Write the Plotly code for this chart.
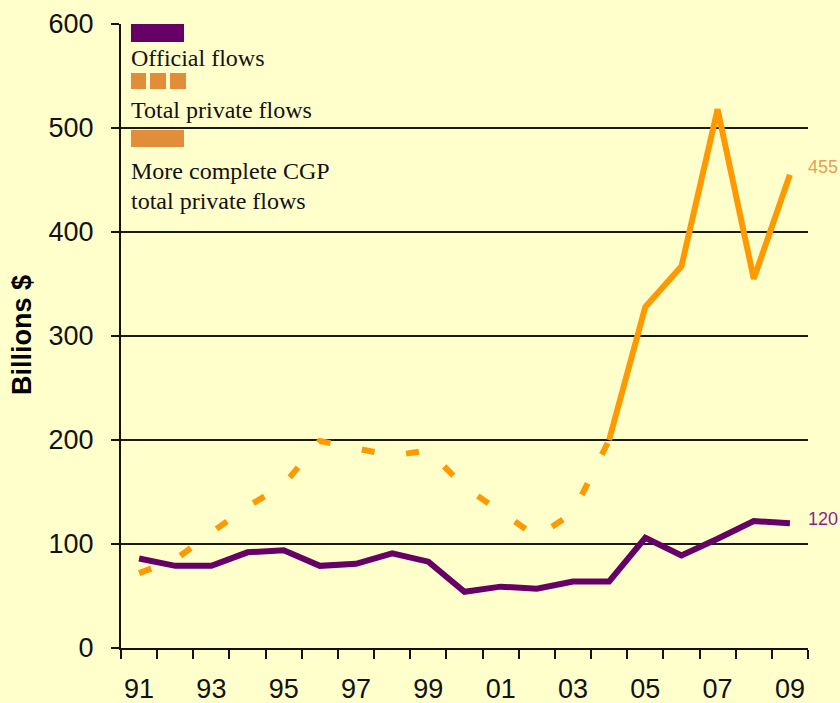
import plotly.graph_objects as go

years = ['91', '92', '93', '94', '95', '96', '97', '98', '99', '00',
         '01', '02', '03', '04', '05', '06', '07', '08', '09']
official = [86, 79, 79, 92, 94, 79, 81, 91, 83, 54, 59, 57, 64, 64, 106, 89, 105, 122, 120]
private_total_years = years[:14]
private_total = [72, 85, 111, 136, 157, 199, 192, 185, 190, 155, 131, 107, 130, 200]
private_cgp_years = years[13:]
private_cgp = [200, 328, 367, 518, 355, 455]
tick_labels = years[::2]
y_ticks = [0, 100, 200, 300, 400, 500, 600]

idx = {y: i for i, y in enumerate(years)}

PURPLE = '#660066'
ORANGE = '#FF9900'
SWATCH_ORANGE = '#E28D3A'
BG = '#FFFFCC'

fig = go.Figure()
fig.add_trace(go.Scatter(x=[idx[y] for y in private_total_years], y=private_total,
                         mode='lines', line=dict(color=ORANGE, width=6, dash='13px,32px'),
                         showlegend=False, hoverinfo='skip'))
fig.add_trace(go.Scatter(x=[idx[y] for y in private_cgp_years], y=private_cgp,
                         mode='lines', line=dict(color=ORANGE, width=6),
                         showlegend=False, hoverinfo='skip'))
fig.add_trace(go.Scatter(x=[idx[y] for y in years], y=official,
                         mode='lines', line=dict(color=PURPLE, width=6),
                         showlegend=False, hoverinfo='skip'))

W, H = 840, 703
L, R, T, B = 121, 32, 24, 55
pw, ph = W - L - R, H - T - B


def px(x):
    return (x - L) / pw


def py(y):
    return (H - B - y) / ph


shapes = [
    dict(type='rect', xref='paper', yref='paper', x0=px(131), x1=px(184), y0=py(42), y1=py(24),
         fillcolor=PURPLE, line=dict(width=0)),
    dict(type='rect', xref='paper', yref='paper', x0=px(131), x1=px(146), y0=py(89), y1=py(73),
         fillcolor=SWATCH_ORANGE, line=dict(width=0)),
    dict(type='rect', xref='paper', yref='paper', x0=px(150), x1=px(166), y0=py(89), y1=py(73),
         fillcolor=SWATCH_ORANGE, line=dict(width=0)),
    dict(type='rect', xref='paper', yref='paper', x0=px(170), x1=px(186), y0=py(89), y1=py(73),
         fillcolor=SWATCH_ORANGE, line=dict(width=0)),
    dict(type='rect', xref='paper', yref='paper', x0=px(131), x1=px(184), y0=py(147), y1=py(130),
         fillcolor=SWATCH_ORANGE, line=dict(width=0)),
]

serif = 'Liberation Serif, Times New Roman, serif'
legend_texts = [('Official flows', 58), ('Total private flows', 110),
                ('More complete CGP', 171), ('total private flows', 201)]
annotations = []
for txt, yy in legend_texts:
    annotations.append(dict(text=txt, xref='paper', yref='paper', x=px(129), y=py(yy),
                            xanchor='left', yanchor='middle', showarrow=False,
                            font=dict(family=serif, size=24, color='#111111')))

annotations.append(dict(text='<b>Billions $</b>', xref='paper', yref='paper', x=px(22), y=py(335),
                        xanchor='center', yanchor='middle', textangle=-90, showarrow=False,
                        font=dict(family='Liberation Sans, Arial, sans-serif', size=27, color='#000000')))

sans = 'Liberation Sans, Arial, sans-serif'
annotations.append(dict(text=str(private_cgp[-1]), x=idx[private_cgp_years[-1]], y=private_cgp[-1],
                        xref='x', yref='y', xanchor='left', yanchor='middle', xshift=16, yshift=8,
                        showarrow=False, font=dict(family=sans, size=18, color='#E8A050')))
annotations.append(dict(text=str(official[-1]), x=idx[years[-1]], y=official[-1],
                        xref='x', yref='y', xanchor='left', yanchor='middle', xshift=16, yshift=4,
                        showarrow=False, font=dict(family=sans, size=18, color='#8E1E8E')))

fig.update_layout(
    width=W, height=H,
    margin=dict(l=L, r=R, t=T, b=B, autoexpand=False),
    paper_bgcolor=BG, plot_bgcolor=BG,
    showlegend=False,
    shapes=shapes,
    annotations=annotations,
    xaxis=dict(
        range=[-0.5, len(years) - 0.5], automargin=False,
        tickmode='array', tickvals=[idx[t] for t in tick_labels], ticktext=tick_labels,
        ticks='', showgrid=False, zeroline=False,
        showline=True, linecolor='#111111', linewidth=2,
        tickfont=dict(family=sans, size=27, color='#111111'),
        ticklabelstandoff=16,
        minor=dict(tickvals=[i - 0.5 for i in range(len(years) + 1)], ticks='outside',
                   ticklen=9, tickwidth=2, tickcolor='#111111', showgrid=False),
    ),
    yaxis=dict(
        range=[0, 600], tickmode='array', tickvals=y_ticks, automargin=False,
        ticks='outside', ticklen=8, tickwidth=2, tickcolor='#111111',
        showgrid=True, gridcolor='#1a1a1a', gridwidth=2,
        zeroline=False, showline=True, linecolor='#111111', linewidth=2,
        tickfont=dict(family=sans, size=27, color='#111111'),
        ticklabelstandoff=12,
    ),
)

fig.write_html('out.html', config={'displayModeBar': False},
               post_script="document.body.style.margin='0';document.body.style.background='#FFFFCC';")
